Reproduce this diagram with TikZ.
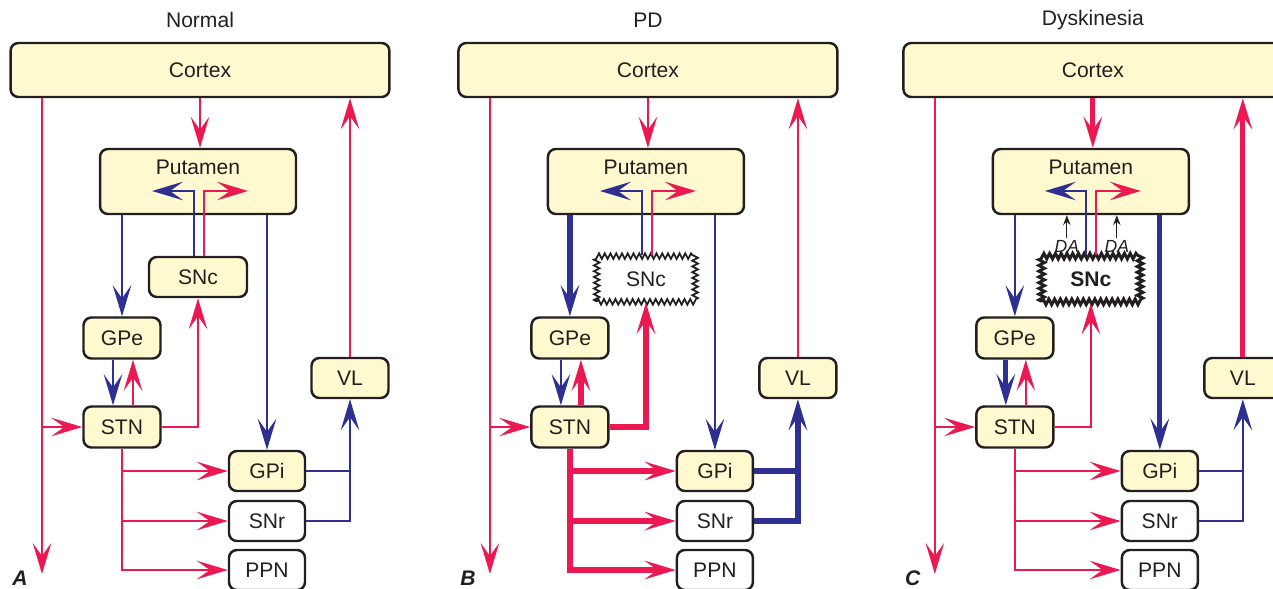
\documentclass[tikz,border=0pt]{standalone}
\usepackage{fontspec}
\setmainfont{Liberation Sans}
\usetikzlibrary{calc,arrows.meta,decorations.pathmorphing}

\definecolor{rojo}{RGB}{236,24,82}
\definecolor{azul}{RGB}{45,48,145}
\definecolor{crema}{RGB}{255,249,208}
\definecolor{tinta}{RGB}{35,31,32}

\tikzset{
  caja/.style={draw=tinta,line width=1.4pt,rounded corners=4.5pt,fill=crema,inner sep=0pt},
  cajab/.style={caja,fill=white},
  roto/.style={draw=tinta,fill=white,line width=1pt,inner sep=0pt,
    minimum width=56pt,minimum height=26pt,
    decorate,decoration={zigzag,segment length=3.275pt,amplitude=1.6pt}},
  rl/.style={->,rojo,line width=1.4pt},
  bl/.style={->,azul,line width=1.4pt},
  grueso/.style={line width=3pt},
  da/.style={-{Stealth[length=2mm,width=1.5mm,inset=0.7mm]},tinta,line width=0.6pt}
}

\begin{document}
\begin{tikzpicture}[x=0.02cm,y=-0.02cm,font=\fontsize{12}{14}\selectfont,text=tinta,
  >={Stealth[length=6.2mm,width=3.7mm,inset=2.6mm]}]
  \useasboundingbox (0,0) rectangle (1273,588);
  \clip (0,0) rectangle (1273,588);

  % ---------- A: normal ----------
  \node (aTit) at (200,20) {Normal};
  \node (aLet) at (20,578) {\bfseries\itshape A};
  \node[caja,minimum width=7.58cm,minimum height=1.08cm] (aCtx) at (200,70) {Cortex};
  \node[caja,minimum width=3.92cm,text height=0.5cm,text depth=0.8cm] (aPut) at (198,181.5) {Putamen};
  \node[caja,minimum width=1.96cm,minimum height=0.8cm] (aSNc) at (198,277) {SNc};
  \node[caja,minimum width=1.54cm,minimum height=0.82cm] (aGPe) at (122,338) {GPe};
  \node[caja,minimum width=1.54cm,minimum height=0.82cm] (aSTN) at (122,427) {STN};
  \node[caja,minimum width=1.54cm,minimum height=0.8cm] (aVL) at (350,378) {VL};
  \node[caja,minimum width=1.52cm,minimum height=0.8cm] (aGPi) at (267,471) {GPi};
  \node[cajab,minimum width=1.52cm,minimum height=0.8cm] (aSNr) at (267,521) {SNr};
  \node[cajab,minimum width=1.52cm,minimum height=0.8cm] (aPPN) at (267,570) {PPN};
  \coordinate (aFin) at (42,574);
  \coordinate (aIzq) at (152,191);
  \coordinate (aDer) at (248,191);
  % corteza
  \draw[rl] (aCtx.south -| aFin) -- (aFin);
  \draw[rl] (aFin |- aSTN) -- (aSTN.west);
  \draw[rl] (aCtx.south) -- (aCtx.south |- aPut.north);
  \draw[rl] (aVL.north) -- (aVL.north |- aCtx.south);
  % putamen y snc
  \draw[bl] (aPut.south -| aGPe) -- (aGPe.north);
  \draw[bl] (aPut.south -| aGPi) -- (aGPi.north);
  \draw[bl] ($(aSNc.north)+(-4,0)$) |- (aIzq);
  \draw[rl] ($(aSNc.north)+(6,0)$) |- (aDer);
  % gpe y stn
  \draw[bl] ($(aGPe.south)+(-9,0)$) -- ($(aSTN.north)+(-9,0)$);
  \draw[rl] ($(aSTN.north)+(11,0)$) -- ($(aGPe.south)+(11,0)$);
  \draw[rl] (aSTN.east) -| (aSNc.south);
  % salidas
  \draw[rl] (aSTN.south) |- (aPPN.west);
  \draw[rl] (aSTN.south |- aGPi) -- (aGPi.west);
  \draw[rl] (aSTN.south |- aSNr) -- (aSNr.west);
  \draw[bl] (aSNr.east) -| (aVL.south);
  \draw[bl,-] (aGPi.east) -- (aGPi.east -| aVL);

  % ---------- B: pd ----------
  \begin{scope}[xshift=8.96cm]
  \node (bTit) at (200,20) {PD};
  \node (bLet) at (20,578) {\bfseries\itshape B};
  \node[caja,minimum width=7.58cm,minimum height=1.08cm] (bCtx) at (200,70) {Cortex};
  \node[caja,minimum width=3.92cm,text height=0.5cm,text depth=0.8cm] (bPut) at (198,181.5) {Putamen};
  \node[roto] (bSNc) at (198,279) {SNc};
  \node[caja,minimum width=1.54cm,minimum height=0.82cm] (bGPe) at (122,338) {GPe};
  \node[caja,minimum width=1.54cm,minimum height=0.82cm] (bSTN) at (122,427) {STN};
  \node[caja,minimum width=1.54cm,minimum height=0.8cm] (bVL) at (350,378) {VL};
  \node[caja,minimum width=1.52cm,minimum height=0.8cm] (bGPi) at (267,471) {GPi};
  \node[cajab,minimum width=1.52cm,minimum height=0.8cm] (bSNr) at (267,521) {SNr};
  \node[cajab,minimum width=1.52cm,minimum height=0.8cm] (bPPN) at (267,570) {PPN};
  \coordinate (bFin) at (42,574);
  \coordinate (bIzq) at (152,191);
  \coordinate (bDer) at (248,191);
  % corteza
  \draw[rl] (bCtx.south -| bFin) -- (bFin);
  \draw[rl] (bFin |- bSTN) -- (bSTN.west);
  \draw[rl] (bCtx.south) -- (bCtx.south |- bPut.north);
  \draw[rl] (bVL.north) -- (bVL.north |- bCtx.south);
  % putamen y snc
  \draw[bl,grueso] (bPut.south -| bGPe) -- (bGPe.north);
  \draw[bl] (bPut.south -| bGPi) -- (bGPi.north);
  \draw[bl] ($(bSNc.north)+(-4,0)$) |- (bIzq);
  \draw[rl] ($(bSNc.north)+(6,0)$) |- (bDer);
  % gpe y stn
  \draw[bl] ($(bGPe.south)+(-9,0)$) -- ($(bSTN.north)+(-9,0)$);
  \draw[rl,grueso] ($(bSTN.north)+(11,0)$) -- ($(bGPe.south)+(11,0)$);
  \draw[rl,grueso] (bSTN.east) -| (bSNc.south);
  % salidas
  \draw[rl,grueso] (bSTN.south) |- (bPPN.west);
  \draw[rl,grueso] (bSTN.south |- bGPi) -- (bGPi.west);
  \draw[rl,grueso] (bSTN.south |- bSNr) -- (bSNr.west);
  \draw[bl,grueso] (bSNr.east) -| (bVL.south);
  \draw[bl,grueso,-] (bGPi.east) -- (bGPi.east -| bVL);
  \end{scope}

  % ---------- C: discinesia ----------
  \begin{scope}[xshift=17.86cm]
  \node (cTit) at (200,20) {Dyskinesia};
  \node (cLet) at (20,578) {\bfseries\itshape C};
  \node[caja,minimum width=7.58cm,minimum height=1.08cm] (cCtx) at (200,70) {Cortex};
  \node[caja,minimum width=3.92cm,text height=0.5cm,text depth=0.8cm] (cPut) at (198,181.5) {Putamen};
  \node[roto,line width=1.7pt,font=\fontsize{12}{14}\selectfont\bfseries] (cSNc) at (198,279) {SNc};
  \node[caja,minimum width=1.54cm,minimum height=0.82cm] (cGPe) at (122,338) {GPe};
  \node[caja,minimum width=1.54cm,minimum height=0.82cm] (cSTN) at (122,427) {STN};
  \node[caja,minimum width=1.54cm,minimum height=0.8cm] (cVL) at (350,378) {VL};
  \node[caja,minimum width=1.52cm,minimum height=0.8cm] (cGPi) at (267,471) {GPi};
  \node[cajab,minimum width=1.52cm,minimum height=0.8cm] (cSNr) at (267,521) {SNr};
  \node[cajab,minimum width=1.52cm,minimum height=0.8cm] (cPPN) at (267,570) {PPN};
  \node[font=\fontsize{10}{12}\selectfont\itshape,inner sep=1pt] (cDA1) at (174,246) {DA};
  \node[font=\fontsize{10}{12}\selectfont\itshape,inner sep=1pt] (cDA2) at (224,246) {DA};
  \coordinate (cFin) at (42,574);
  \coordinate (cIzq) at (152,191);
  \coordinate (cDer) at (248,191);
  % corteza
  \draw[rl] (cCtx.south -| cFin) -- (cFin);
  \draw[rl] (cFin |- cSTN) -- (cSTN.west);
  \draw[rl,grueso] (cCtx.south) -- (cCtx.south |- cPut.north);
  \draw[rl,grueso] (cVL.north) -- (cVL.north |- cCtx.south);
  % putamen y snc
  \draw[bl] (cPut.south -| cGPe) -- (cGPe.north);
  \draw[bl,grueso] (cPut.south -| cGPi) -- (cGPi.north);
  \draw[bl] ($(cSNc.north)+(-5,0)$) |- (cIzq);
  \draw[rl] ($(cSNc.north)+(5,0)$) |- (cDer);
  \draw[da] (cDA1.north) -- (cDA1.north |- cPut.south);
  \draw[da] (cDA2.north) -- (cDA2.north |- cPut.south);
  % gpe y stn
  \draw[bl,grueso] ($(cGPe.south)+(-9,0)$) -- ($(cSTN.north)+(-9,0)$);
  \draw[rl] ($(cSTN.north)+(11,0)$) -- ($(cGPe.south)+(11,0)$);
  \draw[rl] (cSTN.east) -| (cSNc.south);
  % salidas
  \draw[rl] (cSTN.south) |- (cPPN.west);
  \draw[rl] (cSTN.south |- cGPi) -- (cGPi.west);
  \draw[rl] (cSTN.south |- cSNr) -- (cSNr.west);
  \draw[bl] (cSNr.east) -| (cVL.south);
  \draw[bl,-] (cGPi.east) -- (cGPi.east -| cVL);
  \end{scope}
\end{tikzpicture}
\end{document}
